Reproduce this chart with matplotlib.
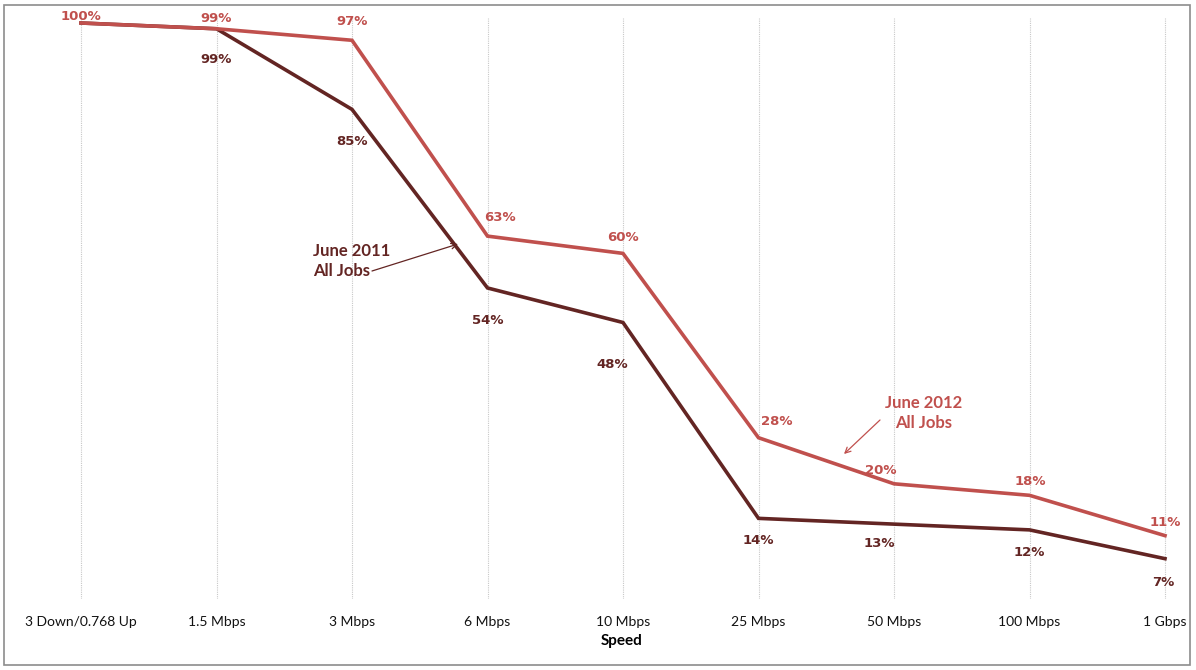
import matplotlib
matplotlib.use("Agg")
import matplotlib.pyplot as plt
from matplotlib.patches import Rectangle

categories = ["3 Down/0.768 Up", "1.5 Mbps", "3 Mbps", "6 Mbps", "10 Mbps",
              "25 Mbps", "50 Mbps", "100 Mbps", "1 Gbps"]
jobs_2012 = [100, 99, 97, 63, 60, 28, 20, 18, 11]
jobs_2011 = [100, 99, 85, 54, 48, 14, 13, 12, 7]

RED = "#C0504D"
DARK = "#632523"

W, H = 1196, 670
fig = plt.figure(figsize=(W / 100, H / 100), dpi=100)

# axes placement in pixels
x_left, x_right = 13, 1185
y_top, y_bot = 18, 599
ax = fig.add_axes([x_left / W, 1 - y_bot / H, (x_right - x_left) / W, (y_bot - y_top) / H])

x = list(range(len(categories)))
ax.plot(x, jobs_2011, color=DARK, lw=2.6, solid_joinstyle="miter", zorder=3)
ax.plot(x, jobs_2012, color=RED, lw=2.6, solid_joinstyle="miter", zorder=4)

ax.set_xlim(-68 / 135.5, 8 + 20 / 135.5)
ax.set_ylim(0, 100 + 5 / 5.76)

for xi in x:
    ax.axvline(xi, color="#C8C8C8", lw=0.8, ls=(0, (1, 1)), zorder=1)

for s in ax.spines.values():
    s.set_visible(False)
ax.set_yticks([])
ax.set_xticks(x)
ax.set_xticklabels(categories, fontfamily="Lato", fontsize=10, color="#111111")
ax.tick_params(axis="x", length=0, pad=12)

fig.text(622 / W, 1 - 641 / H, "Speed", ha="center", va="center",
         fontfamily="Lato", fontweight="bold", fontsize=11)

# data labels (pixel offsets)
off_2012 = [(0, 0), (0, 4), (0, 12), (12, 12), (0, 9), (18, 10), (-13, 7), (1, 7), (0, 7)]
off_2011 = [None, (0, -37), (0, -39), (0, -39), (-11, -48), (0, -29), (-15, -26), (0, -29), (-2, -30)]

for xi, v, o in zip(x, jobs_2012, off_2012):
    ax.annotate(f"{v}%", (xi, v), xytext=o, textcoords="offset pixels",
                ha="center", va="bottom", color=RED, fontsize=9.5, fontweight="bold",
                fontfamily="DejaVu Sans", zorder=5)
for xi, v, o in zip(x, jobs_2011, off_2011):
    if o is None:
        continue
    ax.annotate(f"{v}%", (xi, v), xytext=o, textcoords="offset pixels",
                ha="center", va="bottom", color=DARK, fontsize=9.5, fontweight="bold",
                fontfamily="DejaVu Sans", zorder=5)

# series annotations (pixel-positioned)
def figpt(px, py):
    return (px / W, 1 - py / H)

fig.text(*figpt(313, 261), "June 2011\nAll Jobs", ha="left", va="center",
         multialignment="left", color=DARK, fontsize=12, fontweight="bold",
         fontfamily="Lato", linespacing=1.3)
fig.text(*figpt(924, 413), "June 2012\nAll Jobs", ha="center", va="center",
         multialignment="center", color=RED, fontsize=12, fontweight="bold",
         fontfamily="Lato", linespacing=1.3)

ax.annotate("", xy=figpt(458, 244), xycoords="figure fraction",
            xytext=figpt(372, 271), textcoords="figure fraction",
            arrowprops=dict(arrowstyle="->", color=DARK, lw=0.9, shrinkA=0, shrinkB=0))
ax.annotate("", xy=figpt(844, 454), xycoords="figure fraction",
            xytext=figpt(880, 420), textcoords="figure fraction",
            arrowprops=dict(arrowstyle="->", color=RED, lw=0.9, shrinkA=0, shrinkB=0))

fig.patches.append(Rectangle((4 / W, 1 - 665 / H), (1190 - 4) / W, (665 - 5) / H,
                             transform=fig.transFigure, fill=False,
                             edgecolor="#8C8C8C", lw=1.2))

fig.savefig("out.png", dpi=100)
